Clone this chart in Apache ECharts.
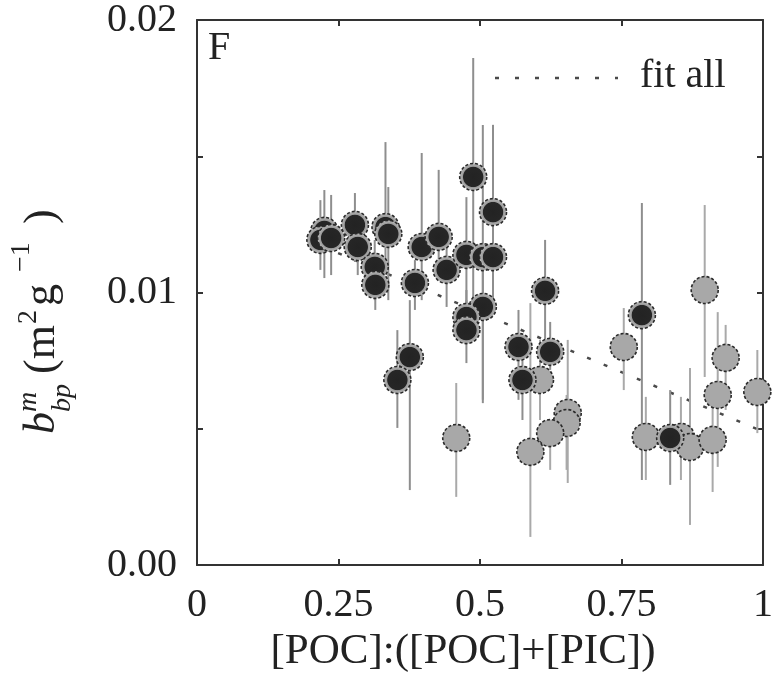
<!DOCTYPE html>
<html>
<head>
<meta charset="utf-8">
<script src="https://cdn.jsdelivr.net/npm/echarts@6/dist/echarts.min.js"></script>
<style>
  html, body { margin: 0; padding: 0; background: #ffffff; }
  #chart { width: 776px; height: 685px; }
</style>
</head>
<body>
<div id="chart"></div>
<script>
// Tick labels
const xTickValues = [0, 0.25, 0.5, 0.75, 1];
const xTickLabels = ['0', '0.25', '0.5', '0.75', '1'];
const yTickValues = [0, 0.01, 0.02];
const yTickLabels = ['0.00', '0.01', '0.02'];

// Dark symbols: x, mean b_bp^m, lower and upper ends of the error bar
const darkX  = [0.225, 0.218, 0.237, 0.279, 0.284, 0.333, 0.338, 0.314, 0.315, 0.397, 0.427, 0.441, 0.488, 0.523, 0.476, 0.505, 0.523, 0.385, 0.505, 0.476, 0.476, 0.376, 0.354, 0.615, 0.568, 0.624, 0.575, 0.786, 0.836];
const darkY  = [0.01226, 0.01193, 0.01200, 0.01248, 0.01167, 0.01240, 0.01215, 0.01094, 0.01028, 0.01167, 0.01204, 0.01083, 0.01424, 0.01295, 0.01138, 0.01130, 0.01130, 0.01035, 0.00947, 0.00910, 0.00862, 0.00763, 0.00679, 0.01006, 0.00800, 0.00782, 0.00679, 0.00917, 0.00466];
const darkLo = [0.01053, 0.01083, 0.01064, 0.01112, 0.01064, 0.01112, 0.00972, 0.00972, 0.00936, 0.00972, 0.01119, 0.00947, 0.00862, 0.01119, 0.00899, 0.00606, 0.00972, 0.00936, 0.00594, 0.00826, 0.00741, 0.00275, 0.00503, 0.00741, 0.00606, 0.00716, 0.00532, 0.00312, 0.00294];
const darkHi = [0.01376, 0.01339, 0.01358, 0.01365, 0.01292, 0.01552, 0.01387, 0.01193, 0.01138, 0.01512, 0.01450, 0.01193, 0.01861, 0.01615, 0.01350, 0.01615, 0.01615, 0.01119, 0.01119, 0.01009, 0.00972, 0.00972, 0.00862, 0.01193, 0.00936, 0.00892, 0.00807, 0.01328, 0.00642];

// Grey symbols
const greyX  = [0.458, 0.606, 0.655, 0.653, 0.624, 0.589, 0.754, 0.897, 0.934, 0.920, 0.990, 0.793, 0.855, 0.871, 0.911];
const greyY  = [0.00466, 0.00679, 0.00558, 0.00521, 0.00484, 0.00415, 0.00800, 0.01009, 0.00760, 0.00624, 0.00635, 0.00470, 0.00470, 0.00433, 0.00459];
const greyLo = [0.00250, 0.00532, 0.00301, 0.00349, 0.00349, 0.00103, 0.00642, 0.00690, 0.00569, 0.00360, 0.00484, 0.00312, 0.00312, 0.00147, 0.00268];
const greyHi = [0.00668, 0.00826, 0.00826, 0.00624, 0.00521, 0.00961, 0.00943, 0.01321, 0.00881, 0.00928, 0.00789, 0.00617, 0.00617, 0.00723, 0.00580];

// Linear fit through all points (end points)
const fitX = [0.22, 1.0];
const fitY = [0.0117, 0.0049];

const SERIF = "'Liberation Serif', 'DejaVu Serif', serif";
const INK = '#222';

function zipPts(xs, ys) { return xs.map((x, i) => [x, ys[i]]); }
function zipBars(xs, lo, hi) { return xs.map((x, i) => [x, lo[i], hi[i]]); }

function lookup(values, labels, v) {
  for (let i = 0; i < values.length; i++) {
    if (Math.abs(values[i] - v) < 1e-9) return labels[i];
  }
  return '';
}

function errorBarSeries(name, data, color) {
  return {
    name: name,
    type: 'custom',
    z: 2,
    silent: true,
    encode: { x: 0, y: [1, 2] },
    data: data,
    renderItem: function (params, api) {
      const x = api.value(0);
      const p1 = api.coord([x, api.value(1)]);
      const p2 = api.coord([x, api.value(2)]);
      return {
        type: 'line',
        shape: { x1: p1[0], y1: p1[1], x2: p2[0], y2: p2[1] },
        style: { stroke: color, lineWidth: 2 }
      };
    }
  };
}

const axisLineStyle = { color: '#333', width: 2 };
const tickStyle = { show: true, inside: true, length: 6, lineStyle: { color: '#333', width: 2 } };

const chart = echarts.init(document.getElementById('chart'), null, { renderer: 'canvas' });

chart.setOption({
  backgroundColor: '#ffffff',
  animation: false,
  grid: { left: 197, top: 20, right: 4, bottom: 120, show: false },
  xAxis: [
    {
      type: 'value', min: 0, max: 1, interval: 0.25, position: 'bottom',
      axisLine: { show: true, onZero: false, lineStyle: axisLineStyle },
      axisTick: tickStyle,
      splitLine: { show: false },
      axisLabel: {
        margin: 20, color: INK, fontFamily: SERIF, fontSize: 40,
        showMinLabel: true, showMaxLabel: true,
        formatter: v => lookup(xTickValues, xTickLabels, v)
      },
      name: '[POC]:([POC]+[PIC])', nameLocation: 'middle', nameGap: 56,
      nameTextStyle: { color: INK, fontFamily: SERIF, fontSize: 43, padding: [0, 34, 0, 0] }
    },
    {
      type: 'value', min: 0, max: 1, interval: 0.25, position: 'top',
      axisLine: { show: true, onZero: false, lineStyle: axisLineStyle },
      axisTick: tickStyle, axisLabel: { show: false }, splitLine: { show: false }
    }
  ],
  yAxis: [
    {
      type: 'value', min: 0, max: 0.02, interval: 0.005, position: 'left',
      axisLine: { show: true, onZero: false, lineStyle: axisLineStyle },
      axisTick: tickStyle,
      splitLine: { show: false },
      axisLabel: {
        margin: 20, color: INK, fontFamily: SERIF, fontSize: 40,
        showMinLabel: true, showMaxLabel: true,
        formatter: v => lookup(yTickValues, yTickLabels, v)
      }
    },
    {
      type: 'value', min: 0, max: 0.02, interval: 0.005, position: 'right',
      axisLine: { show: true, onZero: false, lineStyle: axisLineStyle },
      axisTick: tickStyle, axisLabel: { show: false }, splitLine: { show: false }
    }
  ],
  series: [
    {
      name: 'fit all', type: 'line', z: 1, symbol: 'none', silent: true,
      data: zipPts(fitX, fitY),
      lineStyle: { color: '#4a4a4a', width: 2.5, type: [4, 14] }
    },
    errorBarSeries('grey error', zipBars(greyX, greyLo, greyHi), '#a9a9a9'),
    errorBarSeries('dark error', zipBars(darkX, darkLo, darkHi), '#8e8e8e'),
    {
      name: 'grey', type: 'scatter', z: 3, symbol: 'circle', symbolSize: 27,
      data: zipPts(greyX, greyY),
      itemStyle: {
        color: '#a8a8a8', borderColor: '#2a2a2a', borderWidth: 1.6, borderType: [3, 2], opacity: 1
      }
    },
    {
      name: 'dark', type: 'scatter', z: 4, symbol: 'circle', symbolSize: 27,
      data: zipPts(darkX, darkY),
      itemStyle: {
        color: {
          type: 'radial', x: 0.5, y: 0.5, r: 0.5,
          colorStops: [
            { offset: 0, color: '#232323' },
            { offset: 0.68, color: '#262626' },
            { offset: 0.74, color: '#9a9a9a' },
            { offset: 1, color: '#c4c4c4' }
          ]
        },
        borderColor: '#2a2a2a', borderWidth: 1.6, borderType: [3, 2], opacity: 1
      }
    }
  ],
  graphic: [
    {
      type: 'text', left: 208, top: 28, silent: true,
      style: { text: 'F', font: '40px ' + SERIF, fill: INK }
    },
    {
      type: 'line', silent: true,
      shape: { x1: 495, y1: 78, x2: 618, y2: 78 },
      style: { stroke: '#4a4a4a', lineWidth: 2.5, lineDash: [4, 16] }
    },
    {
      type: 'text', left: 640, top: 56, silent: true,
      style: { text: 'fit all', font: '40px ' + SERIF, fill: INK }
    },
    {
      // vertical axis title, written left-to-right then turned to read upwards
      type: 'group', x: 64, y: 434, rotation: Math.PI / 2, silent: true,
      children: [
        { type: 'text', x: 0, y: 0, style: { text: 'b', font: 'italic 44px ' + SERIF, fill: INK, textVerticalAlign: 'bottom' } },
        { type: 'text', x: 22, y: -21, style: { text: 'm', font: 'italic 28px ' + SERIF, fill: INK, textVerticalAlign: 'bottom' } },
        { type: 'text', x: 22, y: 13, style: { text: 'bp', font: 'italic 28px ' + SERIF, fill: INK, textVerticalAlign: 'bottom' } },
        { type: 'text', x: 60, y: 0, style: { text: '(m', font: '44px ' + SERIF, fill: INK, textVerticalAlign: 'bottom' } },
        { type: 'text', x: 110, y: -21, style: { text: '2', font: '28px ' + SERIF, fill: INK, textVerticalAlign: 'bottom' } },
        { type: 'text', x: 128, y: 0, style: { text: 'g', font: '44px ' + SERIF, fill: INK, textVerticalAlign: 'bottom' } },
        { type: 'text', x: 162, y: -28, style: { text: '\u22121', font: '28px ' + SERIF, fill: INK, textVerticalAlign: 'bottom' } },
        { type: 'text', x: 210, y: 0, style: { text: ')', font: '44px ' + SERIF, fill: INK, textVerticalAlign: 'bottom' } }
      ]
    }
  ]
});
</script>
</body>
</html>
